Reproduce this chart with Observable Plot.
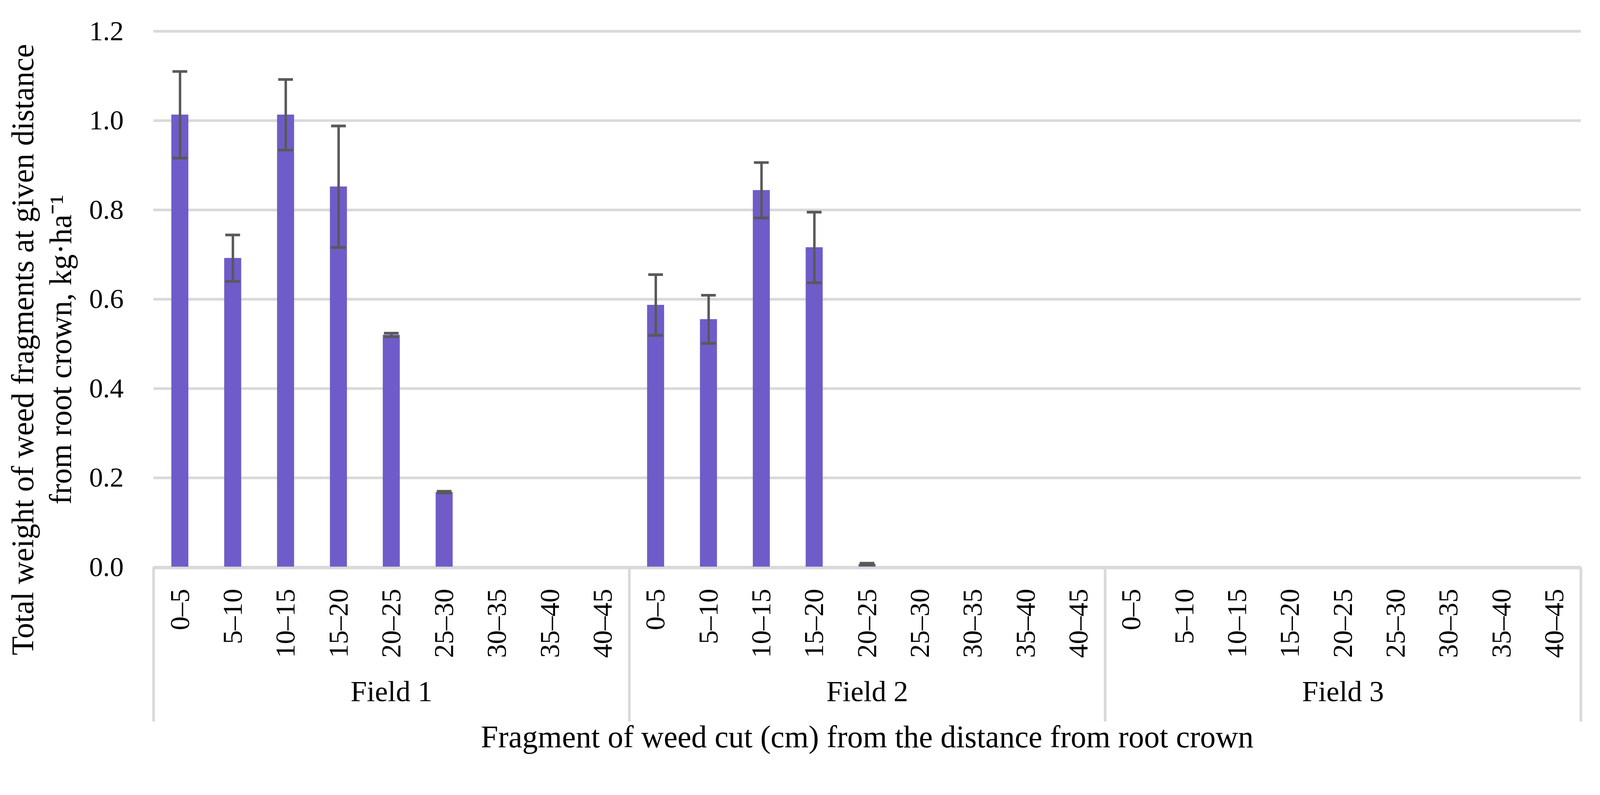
<!DOCTYPE html>
<html><head><meta charset="utf-8">
<script src="https://cdn.jsdelivr.net/npm/d3@7"></script>
<script src="https://cdn.jsdelivr.net/npm/@observablehq/plot@0.6"></script>
<style>html,body{margin:0;padding:0;background:#fff;} svg{display:block}</style>
</head><body><div id="chart"></div>
<script>
const fields = ["Field 1", "Field 2", "Field 3"];
const ranges = ["0–5", "5–10", "10–15", "15–20", "20–25", "25–30", "30–35", "35–40", "40–45"];
const field1Mean = [1.013, 0.692, 1.013, 0.852, 0.520, 0.168, 0, 0, 0];
const field1Err  = [0.097, 0.052, 0.079, 0.136, 0.004, 0.002, 0, 0, 0];
const field2Mean = [0.587, 0.555, 0.844, 0.716, 0.007, 0, 0, 0, 0];
const field2Err  = [0.068, 0.054, 0.062, 0.079, 0.002, 0, 0, 0, 0];
const field3Mean = [0, 0, 0, 0, 0, 0, 0, 0, 0];
const field3Err  = [0, 0, 0, 0, 0, 0, 0, 0, 0];
const yTicks = [0, 0.2, 0.4, 0.6, 0.8, 1.0, 1.2];
const yLabel1 = "Total weight of weed fragments at given distance";
const yLabel2 = "from root crown, kg·ha⁻¹";
const xLabel = "Fragment of weed cut (cm) from the distance from root crown";

const means = [field1Mean, field2Mean, field3Mean];
const errs = [field1Err, field2Err, field3Err];
const data = fields.flatMap((f, i) => ranges.map((r, j) => ({field: f, range: r, key: f + "|" + r, mean: means[i][j], err: errs[i][j]})));
const bars = data.filter(d => d.mean > 0);

const W = 4224, H = 2034, mL = 405, mR = 51, mT = 82, mB = 538;
const step = (W - mL - mR) / data.length;
const font = "'Liberation Serif', 'Times New Roman', serif";
const grey = "#d9d9d9", errC = "#595959";

const plot = Plot.plot({
  width: W, height: H, marginLeft: mL, marginRight: mR, marginTop: mT, marginBottom: mB,
  style: {fontFamily: font, color: "#000", background: "#fff", overflow: "visible"},
  x: {type: "band", domain: data.map(d => d.key), paddingInner: 0.678, paddingOuter: 0.339, round: false, axis: null},
  y: {domain: [0, 1.2], axis: null},
  marks: [
    Plot.gridY(yTicks, {stroke: grey, strokeOpacity: 1, strokeWidth: 7}),
    Plot.barY(bars, {x: "key", y: "mean", fill: "#6f5cc9"}),
    Plot.ruleX(bars, {x: "key", y1: d => d.mean - d.err, y2: d => d.mean + d.err, stroke: errC, strokeWidth: 6.5}),
    Plot.tickY(bars, {x: "key", y: d => d.mean + d.err, stroke: errC, strokeWidth: 7, inset: 3}),
    Plot.tickY(bars, {x: "key", y: d => d.mean - d.err, stroke: errC, strokeWidth: 7, inset: 3}),
    Plot.ruleY([0], {stroke: grey, strokeWidth: 7, dy: 2}),
    Plot.ruleX(fields, {x: f => f + "|" + ranges[0], dx: -step / 2, stroke: grey, strokeWidth: 7, insetTop: H - mT - mB, insetBottom: -408}),
    Plot.ruleX([fields[2]], {x: f => f + "|" + ranges[8], dx: step / 2, stroke: grey, strokeWidth: 7, insetTop: H - mT - mB, insetBottom: -408}),
    Plot.axisY(yTicks, {tickSize: 0, tickPadding: 79, tickFormat: d3.format(".1f"), fontSize: 73, label: null}),
    Plot.axisX({tickSize: 0, tickRotate: -90, tickPadding: 57, fontSize: 73, tickFormat: k => k.split("|")[1], label: null}),
    Plot.text(fields, {x: f => f + "|" + ranges[4], frameAnchor: "bottom", dy: 354, fontSize: 77, text: d => d}),
    Plot.text([xLabel], {frameAnchor: "bottom", dy: 475, fontSize: 82, text: d => d}),
    Plot.text([yLabel1], {frameAnchor: "left", textAnchor: "middle", rotate: -90, dx: -344, dy: 133, fontSize: 82, text: d => d}),
    Plot.text([yLabel2], {frameAnchor: "left", textAnchor: "middle", rotate: -90, dx: -244, dy: 133, fontSize: 82, text: d => d})
  ]
});
document.getElementById("chart").appendChild(plot);
</script>
</body></html>
